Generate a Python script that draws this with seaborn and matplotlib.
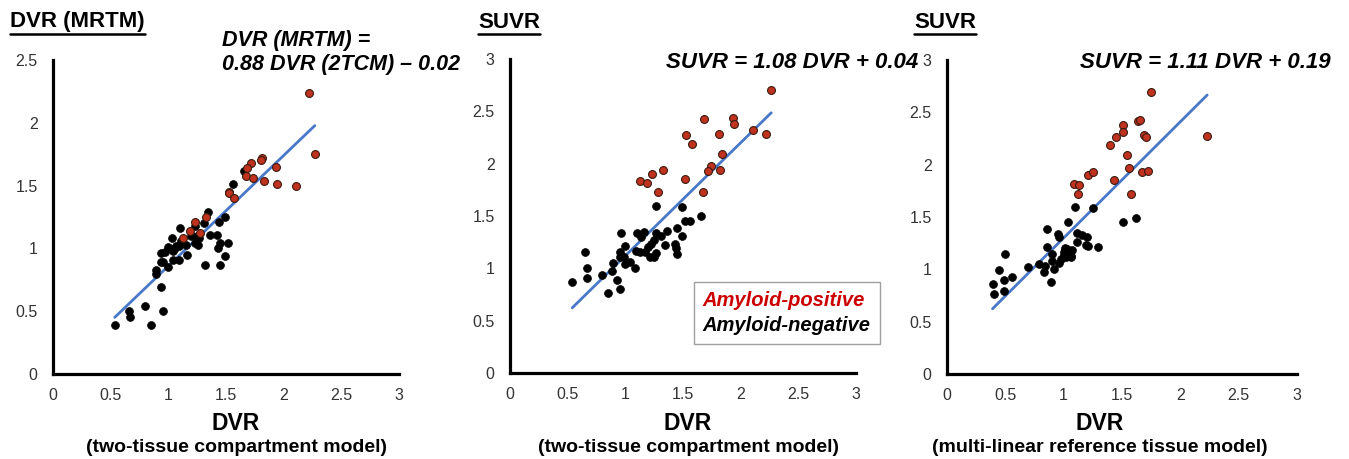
import matplotlib
matplotlib.use("Agg")
import matplotlib.pyplot as plt
from matplotlib.lines import Line2D
import seaborn as sns
import pandas as pd

# panel 1: DVR (MRTM) vs DVR (2TCM)
p1_pos_x = [2.22, 2.27, 1.815, 1.80, 1.72, 1.68, 1.67, 1.735, 1.93, 1.83, 1.94, 2.11,
            1.53, 1.53, 1.57, 1.235, 1.33, 1.19, 1.13, 1.275]
p1_pos_y = [2.24, 1.75, 1.72, 1.70, 1.68, 1.64, 1.58, 1.56, 1.65, 1.54, 1.51, 1.50,
            1.45, 1.44, 1.40, 1.21, 1.25, 1.14, 1.08, 1.12]
p1_neg_x = [1.66, 1.56, 1.34, 1.49, 1.31, 1.44, 1.105, 1.235, 1.36, 1.42, 1.03, 1.25,
            1.27, 1.23, 1.26, 1.45, 1.52, 1.43, 1.49, 1.32, 1.45, 1.165, 1.09, 1.07,
            1.00, 1.04, 0.975, 0.94, 0.957, 0.935, 1.00, 1.04, 1.09, 0.89, 0.89, 0.94,
            0.80, 0.95, 0.655, 0.67, 0.535, 0.85, 1.11, 1.06, 1.20, 1.15]
p1_neg_y = [1.62, 1.51, 1.29, 1.25, 1.20, 1.21, 1.16, 1.18, 1.11, 1.11, 1.08, 1.10,
            1.08, 1.04, 1.03, 1.045, 1.04, 1.005, 0.94, 0.865, 0.865, 0.95, 1.02, 1.02,
            1.01, 0.98, 0.97, 0.96, 0.89, 0.89, 0.85, 0.91, 0.91, 0.83, 0.80, 0.69,
            0.545, 0.50, 0.50, 0.45, 0.39, 0.39, 1.06, 1.00, 1.10, 1.03]

# panel 2: SUVR vs DVR (2TCM)
p2_pos_x = [2.265, 1.68, 1.93, 1.94, 1.525, 1.81, 2.11, 2.22, 1.575, 1.835, 1.74, 1.72,
            1.82, 1.235, 1.33, 1.13, 1.19, 1.52, 1.28, 1.67]
p2_pos_y = [2.70, 2.43, 2.44, 2.375, 2.27, 2.28, 2.32, 2.28, 2.19, 2.09, 1.98, 1.93,
            1.94, 1.905, 1.94, 1.83, 1.82, 1.855, 1.73, 1.73]
p2_neg_x = [1.27, 1.49, 1.66, 1.52, 1.56, 1.45, 1.49, 1.36, 0.966, 1.105, 1.16, 1.27,
            1.31, 1.245, 1.22, 1.14, 1.34, 1.43, 1.44, 1.45, 1.27, 1.215, 1.245, 1.00,
            0.955, 1.09, 1.13, 1.17, 0.99, 0.95, 0.89, 0.998, 1.04, 1.08, 0.65, 0.665,
            0.665, 0.80, 0.888, 0.93, 0.955, 0.85, 0.54, 1.20]
p2_neg_y = [1.60, 1.59, 1.50, 1.45, 1.45, 1.39, 1.31, 1.36, 1.335, 1.34, 1.35, 1.335,
            1.31, 1.27, 1.23, 1.30, 1.22, 1.23, 1.19, 1.135, 1.145, 1.11, 1.11, 1.215,
            1.16, 1.17, 1.16, 1.16, 1.11, 1.11, 1.055, 1.04, 1.065, 1.00, 1.155, 1.005,
            0.905, 0.94, 0.97, 0.885, 0.80, 0.76, 0.87, 1.20]

# panel 3: SUVR vs DVR (MRTM)
p3_pos_x = [1.75, 1.64, 1.655, 1.505, 1.51, 1.45, 1.40, 1.69, 1.705, 2.23, 1.54, 1.56,
            1.67, 1.72, 1.21, 1.25, 1.09, 1.135, 1.12, 1.435, 1.58]
p3_pos_y = [2.69, 2.42, 2.43, 2.38, 2.31, 2.26, 2.19, 2.28, 2.26, 2.27, 2.09, 1.97,
            1.93, 1.94, 1.90, 1.93, 1.82, 1.81, 1.72, 1.85, 1.72]
p3_neg_x = [1.10, 1.255, 1.51, 1.62, 1.04, 0.86, 0.95, 0.96, 1.115, 1.16, 1.20, 1.11,
            1.19, 1.21, 1.29, 0.86, 0.90, 1.015, 1.04, 1.00, 1.06, 0.98, 1.02, 1.065,
            0.96, 0.90, 0.836, 0.92, 0.83, 0.89, 0.785, 0.69, 0.50, 0.445, 0.49, 0.557,
            0.39, 0.40, 0.49, 1.00, 1.03, 1.05, 1.07, 1.01]
p3_neg_y = [1.60, 1.59, 1.45, 1.49, 1.45, 1.385, 1.34, 1.31, 1.345, 1.33, 1.31, 1.26,
            1.23, 1.22, 1.21, 1.21, 1.15, 1.18, 1.15, 1.14, 1.13, 1.10, 1.12, 1.12,
            1.06, 1.08, 1.03, 1.00, 0.97, 0.875, 1.05, 1.025, 1.145, 0.995, 0.895, 0.925,
            0.86, 0.765, 0.79, 1.17, 1.19, 1.16, 1.18, 1.20]

# fitted lines (slope, intercept) as printed on the chart
fits = [(0.88, -0.02), (1.08, 0.04), (1.11, 0.19)]
y_max = [2.5, 3, 3]
y_ticks = [[0, 0.5, 1, 1.5, 2, 2.5], [0, 0.5, 1, 1.5, 2, 2.5, 3], [0, 0.5, 1, 1.5, 2, 2.5, 3]]
x_ticks = [0, 0.5, 1, 1.5, 2, 2.5, 3]
titles = ["DVR (MRTM)", "SUVR", "SUVR"]
sub_labels = ["(two-tissue compartment model)", "(two-tissue compartment model)",
              "(multi-linear reference tissue model)"]
equations = ["DVR (MRTM) =\n0.88 DVR (2TCM) \u2013 0.02",
             "SUVR = 1.08 DVR + 0.04",
             "SUVR = 1.11 DVR + 0.19"]

sns.set_style("white")
plt.rcParams['font.family'] = ['Liberation Sans', 'DejaVu Sans']
plt.rcParams['text.color'] = 'black'

fig = plt.figure(figsize=(13.49, 4.59), dpi=100)
W, H = 1349, 459
boxes = [(53, 374, 346, 314), (510, 373, 346, 314), (947, 374, 350, 314)]
label_cx = [236, 688, 1100]

panels = [(p1_pos_x, p1_pos_y, p1_neg_x, p1_neg_y),
          (p2_pos_x, p2_pos_y, p2_neg_x, p2_neg_y),
          (p3_pos_x, p3_pos_y, p3_neg_x, p3_neg_y)]

axes = []
for i, (px, py, nx, ny) in enumerate(panels):
    l, b, w, h = boxes[i]
    ax = fig.add_axes([l / W, (H - b) / H, w / W, h / H])
    axes.append(ax)
    df = pd.DataFrame({
        "x": px + nx,
        "y": py + ny,
        "group": ["Amyloid-positive"] * len(px) + ["Amyloid-negative"] * len(nx),
    })
    allx = px + nx
    xs = [min(allx), max(allx)]
    slope, icpt = fits[i]
    line_df = pd.DataFrame({"x": xs, "y": [slope * v + icpt for v in xs]})
    sns.lineplot(data=line_df, x="x", y="y", ax=ax, color="#4a78c9", linewidth=2.0, zorder=1)
    sns.scatterplot(data=df[df.group == "Amyloid-negative"], x="x", y="y", ax=ax,
                    color="black", edgecolor="black", s=32, linewidth=0.5, zorder=2)
    sns.scatterplot(data=df[df.group == "Amyloid-positive"], x="x", y="y", ax=ax,
                    color="#c0321e", edgecolor="#3a1a10", s=32, linewidth=0.8, zorder=3)
    ax.set_xlim(0, 3)
    ax.set_ylim(0, y_max[i])
    ax.set_xticks(x_ticks)
    ax.set_xticklabels(["0", "0.5", "1", "1.5", "2", "2.5", "3"])
    ax.set_yticks(y_ticks[i])
    ax.set_yticklabels([("%g" % t) for t in y_ticks[i]])
    ax.tick_params(length=0, labelsize=11.5, colors="#333333")
    ax.tick_params(axis="x", pad=10)
    ax.tick_params(axis="y", pad=11)
    for side in ["top", "right"]:
        ax.spines[side].set_visible(False)
    for side in ["left", "bottom"]:
        ax.spines[side].set_color("black")
        ax.spines[side].set_linewidth(2.3)
    ax.set_xlabel("")
    ax.set_ylabel("")
    ax.patch.set_alpha(0)
    cx = label_cx[i] / W
    fig.text(cx, 1 - 423 / H, "DVR", ha="center", va="center", fontsize=16.5, fontweight="bold")
    fig.text(cx, 1 - 447 / H, sub_labels[i], ha="center", va="center", fontsize=14,
             fontweight="bold")

# legend in middle panel
handles = [Line2D([], [], linestyle="none", marker=None),
           Line2D([], [], linestyle="none", marker=None)]
leg = axes[1].legend(handles, ["Amyloid-positive", "Amyloid-negative"],
                     loc="center", bbox_to_anchor=(0.80, 0.19), handlelength=0,
                     handletextpad=0, frameon=True, fancybox=False, borderpad=0.45,
                     prop={"weight": "bold", "style": "italic", "size": 14.5},
                     labelspacing=0.3)
leg.get_frame().set_edgecolor("#888888")
leg.get_frame().set_linewidth(1.0)
leg.get_texts()[0].set_color("#cc0000")
leg.get_texts()[1].set_color("black")
leg.set_zorder(5)

# panel titles (underlined)
title_pos = [10, 478, 914]
title_objs = []
for i, t in enumerate(titles):
    txt = fig.text(title_pos[i] / W, 1 - 22 / H, t, ha="left", va="center",
                   fontsize=16, fontweight="bold")
    title_objs.append(txt)

# regression equations
fig.text(222 / W, 1 - 30 / H, equations[0], ha="left", va="top", fontsize=15.5,
         fontweight="bold", style="italic", linespacing=1.2)
fig.text(666 / W, 1 - 62 / H, equations[1], ha="left", va="center", fontsize=16,
         fontweight="bold", style="italic")
fig.text(1080 / W, 1 - 62 / H, equations[2], ha="left", va="center", fontsize=16,
         fontweight="bold", style="italic")

fig.canvas.draw()
renderer = fig.canvas.get_renderer()
for txt in title_objs:
    bb = txt.get_window_extent(renderer)
    yline = (bb.y0 - 1) / H
    fig.add_artist(Line2D([bb.x0 / W, bb.x1 / W], [yline, yline], color="black",
                          linewidth=1.8, transform=fig.transFigure))

fig.savefig("out.png", dpi=100)
plt.close(fig)
